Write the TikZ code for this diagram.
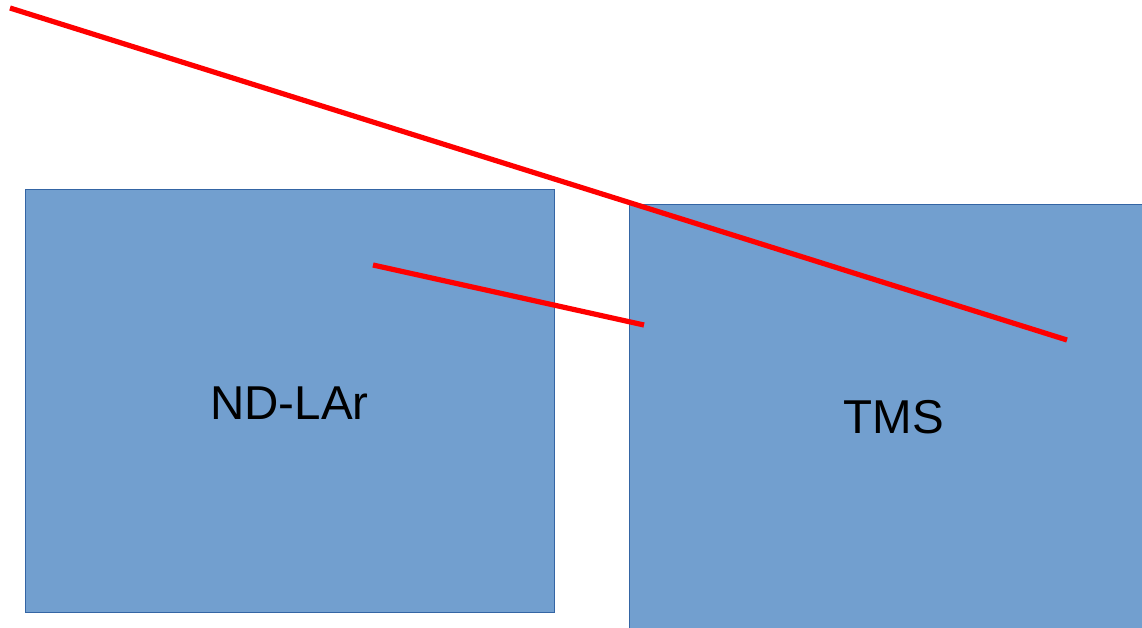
\documentclass[tikz,border=0pt]{standalone}
\usepackage{fontspec}
\setmainfont{Liberation Sans}
\definecolor{boxfill}{HTML}{729FCF}
\definecolor{boxline}{HTML}{3465A4}
\definecolor{redline}{HTML}{FF0000}
\begin{document}
\begin{tikzpicture}[x=1pt,y=-1pt,
  detbox/.style={draw=boxline,line width=0.8pt,fill=boxfill},
  detlabel/.style={font=\fontsize{47.5}{52}\selectfont,text=black,inner sep=0pt},
  track/.style={draw=redline,line width=5.2pt}]
\useasboundingbox (0,0) rectangle (1142,627);
\clip (0,0) rectangle (1142,627);
\draw[detbox] (25,189) rectangle (554,612);
\draw[detbox] (629,204) rectangle (1158,632);
\node[detlabel] (ndlar) at (289.5,403) {ND-LAr};
\node[detlabel] (tms) at (894,417) {TMS};
\coordinate (t1a) at (10,8);
\coordinate (t1b) at (1067,340);
\coordinate (t2a) at (373,265);
\coordinate (t2b) at (644,325);
\draw[track] (t1a) -- (t1b);
\draw[track] (t2a) -- (t2b);
\end{tikzpicture}
\end{document}
